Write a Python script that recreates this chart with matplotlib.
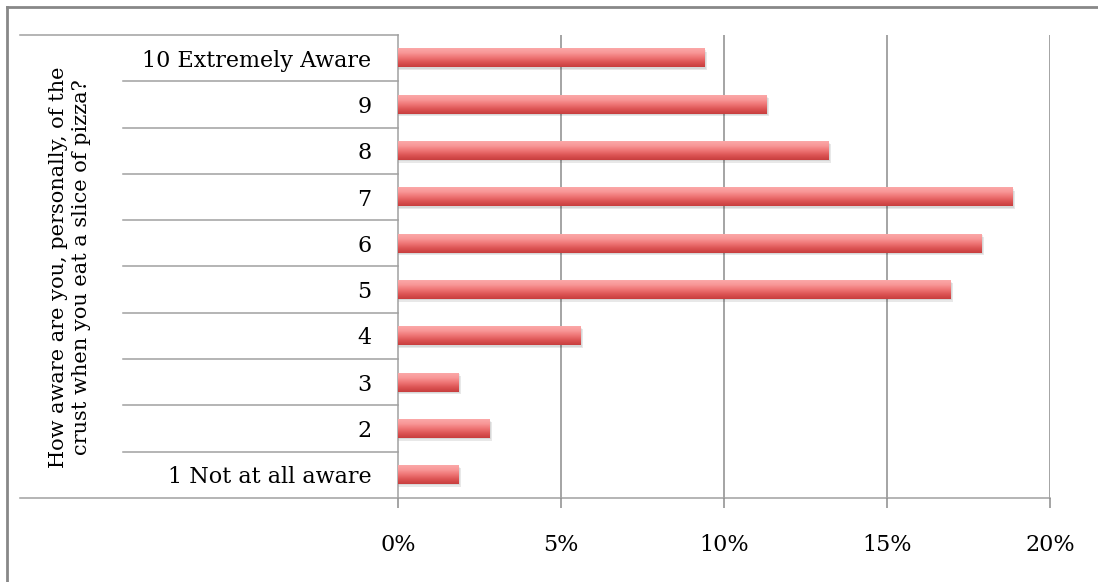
import numpy as np
import matplotlib
matplotlib.use("Agg")
import matplotlib.pyplot as plt
import matplotlib.transforms as mtransforms
from matplotlib.colors import LinearSegmentedColormap

categories = ["1 Not at all aware", "2", "3", "4", "5", "6", "7", "8", "9",
              "10 Extremely Aware"]
values = [1.85, 2.8, 1.85, 5.6, 16.95, 17.9, 18.85, 13.2, 11.3, 9.4]
xticks = [0, 5, 10, 15, 20]
ylabel = "How aware are you, personally, of the\ncrust when you eat a slice of pizza?"

plt.rcParams['font.family'] = ['DejaVu Serif']

W, H = 1098, 582
fig = plt.figure(figsize=(W / 100, H / 100), dpi=100)
ax = fig.add_axes([398 / W, 1 - 498 / H, 652 / W, 463 / H])

grid_col = "#8c8c8c"
line_col = "#a0a0a0"

# bar gradient (top light -> bottom dark)
cmap = LinearSegmentedColormap.from_list(
    "bar", ["#c83e3e", "#dc5454", "#ee7474", "#f89696", "#fba8a8"])
grad = np.linspace(0, 1, 64).reshape(-1, 1)

h = 0.40
y = np.arange(len(categories))
for yi, v in zip(y, values):
    # shadow
    ax.barh(yi - 0.06, v + 0.08, height=h, color="#000000", alpha=0.09,
            zorder=2, linewidth=0)
    ax.barh(yi - 0.03, v + 0.04, height=h, color="#000000", alpha=0.07,
            zorder=2, linewidth=0)
    ax.imshow(grad, cmap=cmap, aspect="auto", origin="lower",
              extent=(0, v, yi - h / 2, yi + h / 2), zorder=3,
              interpolation="bilinear")

ax.set_xlim(0, 20)
ax.set_ylim(-0.5, len(categories) - 0.5)

for t in xticks[1:]:
    ax.axvline(t, color=grid_col, lw=1.1, zorder=1)

for s in ["top", "right", "bottom"]:
    ax.spines[s].set_visible(False)
ax.spines["left"].set_color(line_col)
ax.spines["left"].set_linewidth(1.1)

fs = 16
ax.set_xticks(xticks)
ax.set_xticklabels([f"{t}%" for t in xticks], fontsize=fs)
ax.tick_params(axis="x", length=7, color=grid_col, width=1.1, pad=19)
ax.set_yticks(y)
ax.set_yticklabels(categories, fontsize=fs)
ax.tick_params(axis="y", length=0, pad=19)

# category table lines
tr = mtransforms.blended_transform_factory(ax.transAxes, ax.transData)
x_inner = (123 - 398) / 652
x_outer = (20 - 398) / 652
for i in range(len(categories) + 1):
    b = i - 0.5
    x0 = x_outer if i in (0, len(categories)) else x_inner
    x1 = 1.0 if i == 0 else 0.0
    ax.plot([x0, x1], [b, b], transform=tr, color=line_col, lw=1.1,
            clip_on=False, zorder=1)

fig.text(70 / W, 1 - 267 / H, ylabel, rotation=90, ha="center", va="center",
         fontsize=15, linespacing=1.25)

# outer chart border
fig.add_artist(plt.Line2D([7 / W, 7 / W], [0, 1 - 7 / H], color="#888888",
                          lw=2, transform=fig.transFigure))
fig.add_artist(plt.Line2D([7 / W, 1], [1 - 7 / H, 1 - 7 / H], color="#888888",
                          lw=2, transform=fig.transFigure))

fig.savefig("out.png", dpi=100)
